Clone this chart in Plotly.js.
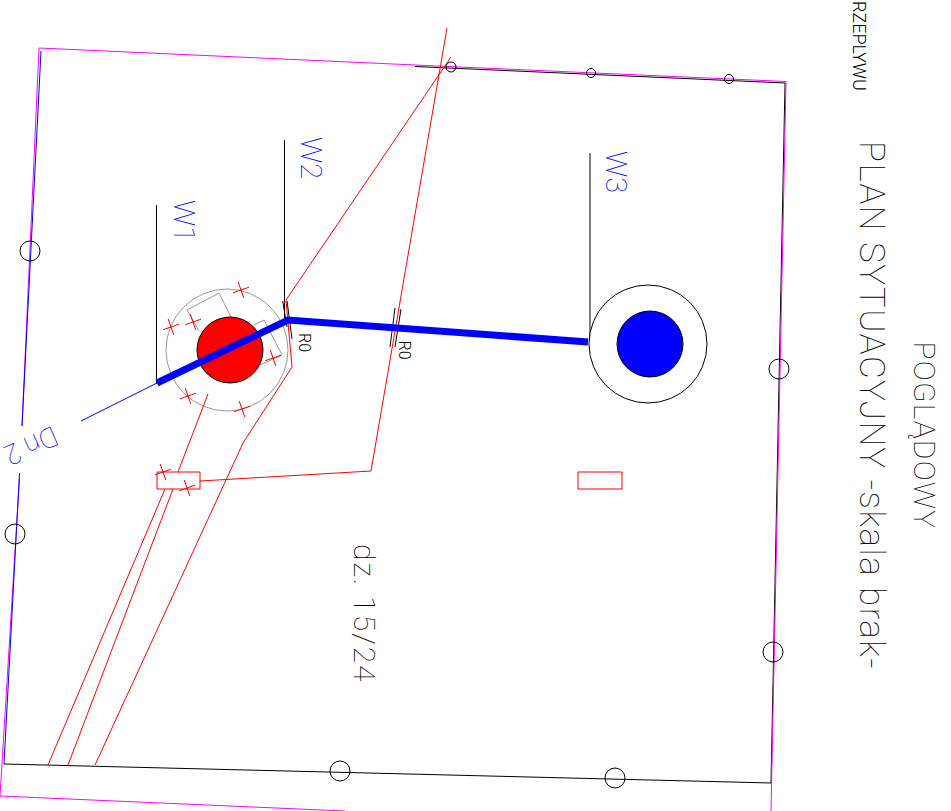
<!DOCTYPE html>
<html><head><meta charset="utf-8">
<script src="https://cdn.plot.ly/plotly-3.0.1.min.js"></script>
<style>html,body{margin:0;padding:0;background:#fff}
.annotation[data-index="6"] text{letter-spacing:1.5px}
.annotation[data-index="7"] text{letter-spacing:1.2px}
.annotation[data-index="5"] text{letter-spacing:2px}
</style></head>
<body><div id="chart" style="width:951px;height:811px"></div>
<script>
const magentaLines = [
  [[415,65],[39,48],[22,426]],
  [[19.5,478],[0,796]],
  [[0,796],[345,811]],
  [[415,65],[786,81.5],[771,811]]
];
const blackLines = [
  [[415,66.5],[785,83],[771,783],[4,764]],
  [[156.5,205],[156.5,384]],
  [[284.5,140],[284.5,320]],
  [[590,153],[590,342]],
  [[282.7,301],[287,327]],
  [[287,301],[292,339]],
  [[395,308],[390,347]],
  [[401,309],[395,347]]
];
const thinBlueLines = [
  [[41,51],[22,426]],
  [[19.5,473],[4,764]],
  [[157,383],[81,421]]
];
const pipeLine = [[157,383],[288,320],[588,342]];
const redLines = [
  [[447,28],[371,471],[200,481]],
  [[451,57],[286,300],[292,367],[243,443],[95,765]],
  [[208,394],[178,472]],
  [[173,489],[68,765]],
  [[165,489],[48,765]],
  [[157,472],[200,472],[200,489],[157,489],[157,472]],
  [[578,472],[622,472],[622,489],[578,489],[578,472]]
];
const crossCentres = [[241,290],[171,327],[193,322],[273,358],[188,396],[242,409],[163,472],[187,488]];
const greyLines = [
  [[199,331],[187,310],[219,293],[231,317]],
  [[254,325],[264,320],[282,355],[260,365]]
];
const greyCircle = {x:[227], y:[350], d:[122]};
const ring = {x:[648], y:[344], d:[118]};
const blueWell = {x:[650], y:[344], d:[66]};
const redWell = {x:[230], y:[350], d:[66]};
const markerX = [30,15,340,615,773,779,451,591,729];
const markerY = [251,534,771,778,652,369,67,73,79];
const markerD = [20,20,20,20,20,20,10,9,9];
const labels = ["W1","W2","W3","R0","R0","dz. 15/24","PLAN SYTUACYJNY -skala brak-","POGLĄDOWY","RZEPLYWU","Dn 2"];
const labelX = [184,311,616,305,404.5,365,872,925,860,31];
const labelY = [221,158,172,342,350,614,405,435,46,446];
const labelSize = [29,29,29,16,16,30,35,30,18,28];
const labelColor = ["#0000ff","#0000ff","#0000ff","#000","#000","#000","#000","#000","#000","#0000ff"];
const labelAngle = [90,90,90,90,90,90,90,90,90,156];
const labelWeight = [100,100,100,300,300,100,100,100,300,100];

function path(lines){const x=[],y=[];lines.forEach(l=>{l.forEach(p=>{x.push(p[0]);y.push(p[1]);});x.push(null);y.push(null);});return {x,y};}
function line(lines,color,width){const p=path(lines);return {type:'scatter',mode:'lines',x:p.x,y:p.y,hoverinfo:'skip',line:{color,width}};}
function disc(c,fill,lineColor,lw){return {type:'scatter',mode:'markers',x:c.x,y:c.y,hoverinfo:'skip',marker:{size:c.d,sizemode:'diameter',opacity:1,color:fill,line:{color:lineColor,width:lw}}};}
const crossLines=[];
crossCentres.forEach(c=>{
  crossLines.push([[c[0]-8,c[1]+2.8],[c[0]+8,c[1]-2.8]]);
  crossLines.push([[c[0]-2.8,c[1]-8],[c[0]+2.8,c[1]+8]]);
});
const data=[
  line(blackLines,'#000000',1),
  line(magentaLines,'#ff00ff',1),
  line(thinBlueLines,'#0000ff',1),
  disc(greyCircle,'rgba(0,0,0,0)','#999999',1),
  line(greyLines,'#999999',1),
  disc(ring,'#ffffff','#000000',1),
  disc(blueWell,'#0000ff','#000000',1),
  disc(redWell,'#ff0000','#000000',1),
  line(redLines,'#ff0000',1),
  line(crossLines,'#ff0000',1),
  line([pipeLine],'#0000ff',7),
  {type:'scatter',mode:'markers',x:markerX,y:markerY,hoverinfo:'skip',
   marker:{size:markerD,opacity:1,color:'rgba(0,0,0,0)',line:{color:'#000000',width:1}}}
];
const annotations=labels.map((t,i)=>({text:t,x:labelX[i],y:labelY[i],xref:'x',yref:'y',showarrow:false,
  textangle:labelAngle[i],xanchor:'center',yanchor:'middle',
  font:{family:'Roboto, Liberation Sans, sans-serif',weight:labelWeight[i],size:labelSize[i],color:labelColor[i]}}));
Plotly.newPlot('chart',data,{
  width:951,height:811,showlegend:false,margin:{l:0,r:0,t:0,b:0},
  paper_bgcolor:'#fff',plot_bgcolor:'#fff',
  xaxis:{range:[0,951],visible:false,fixedrange:true},
  yaxis:{range:[811,0],visible:false,fixedrange:true},
  annotations
},{displayModeBar:false,staticPlot:true});
</script></body></html>
